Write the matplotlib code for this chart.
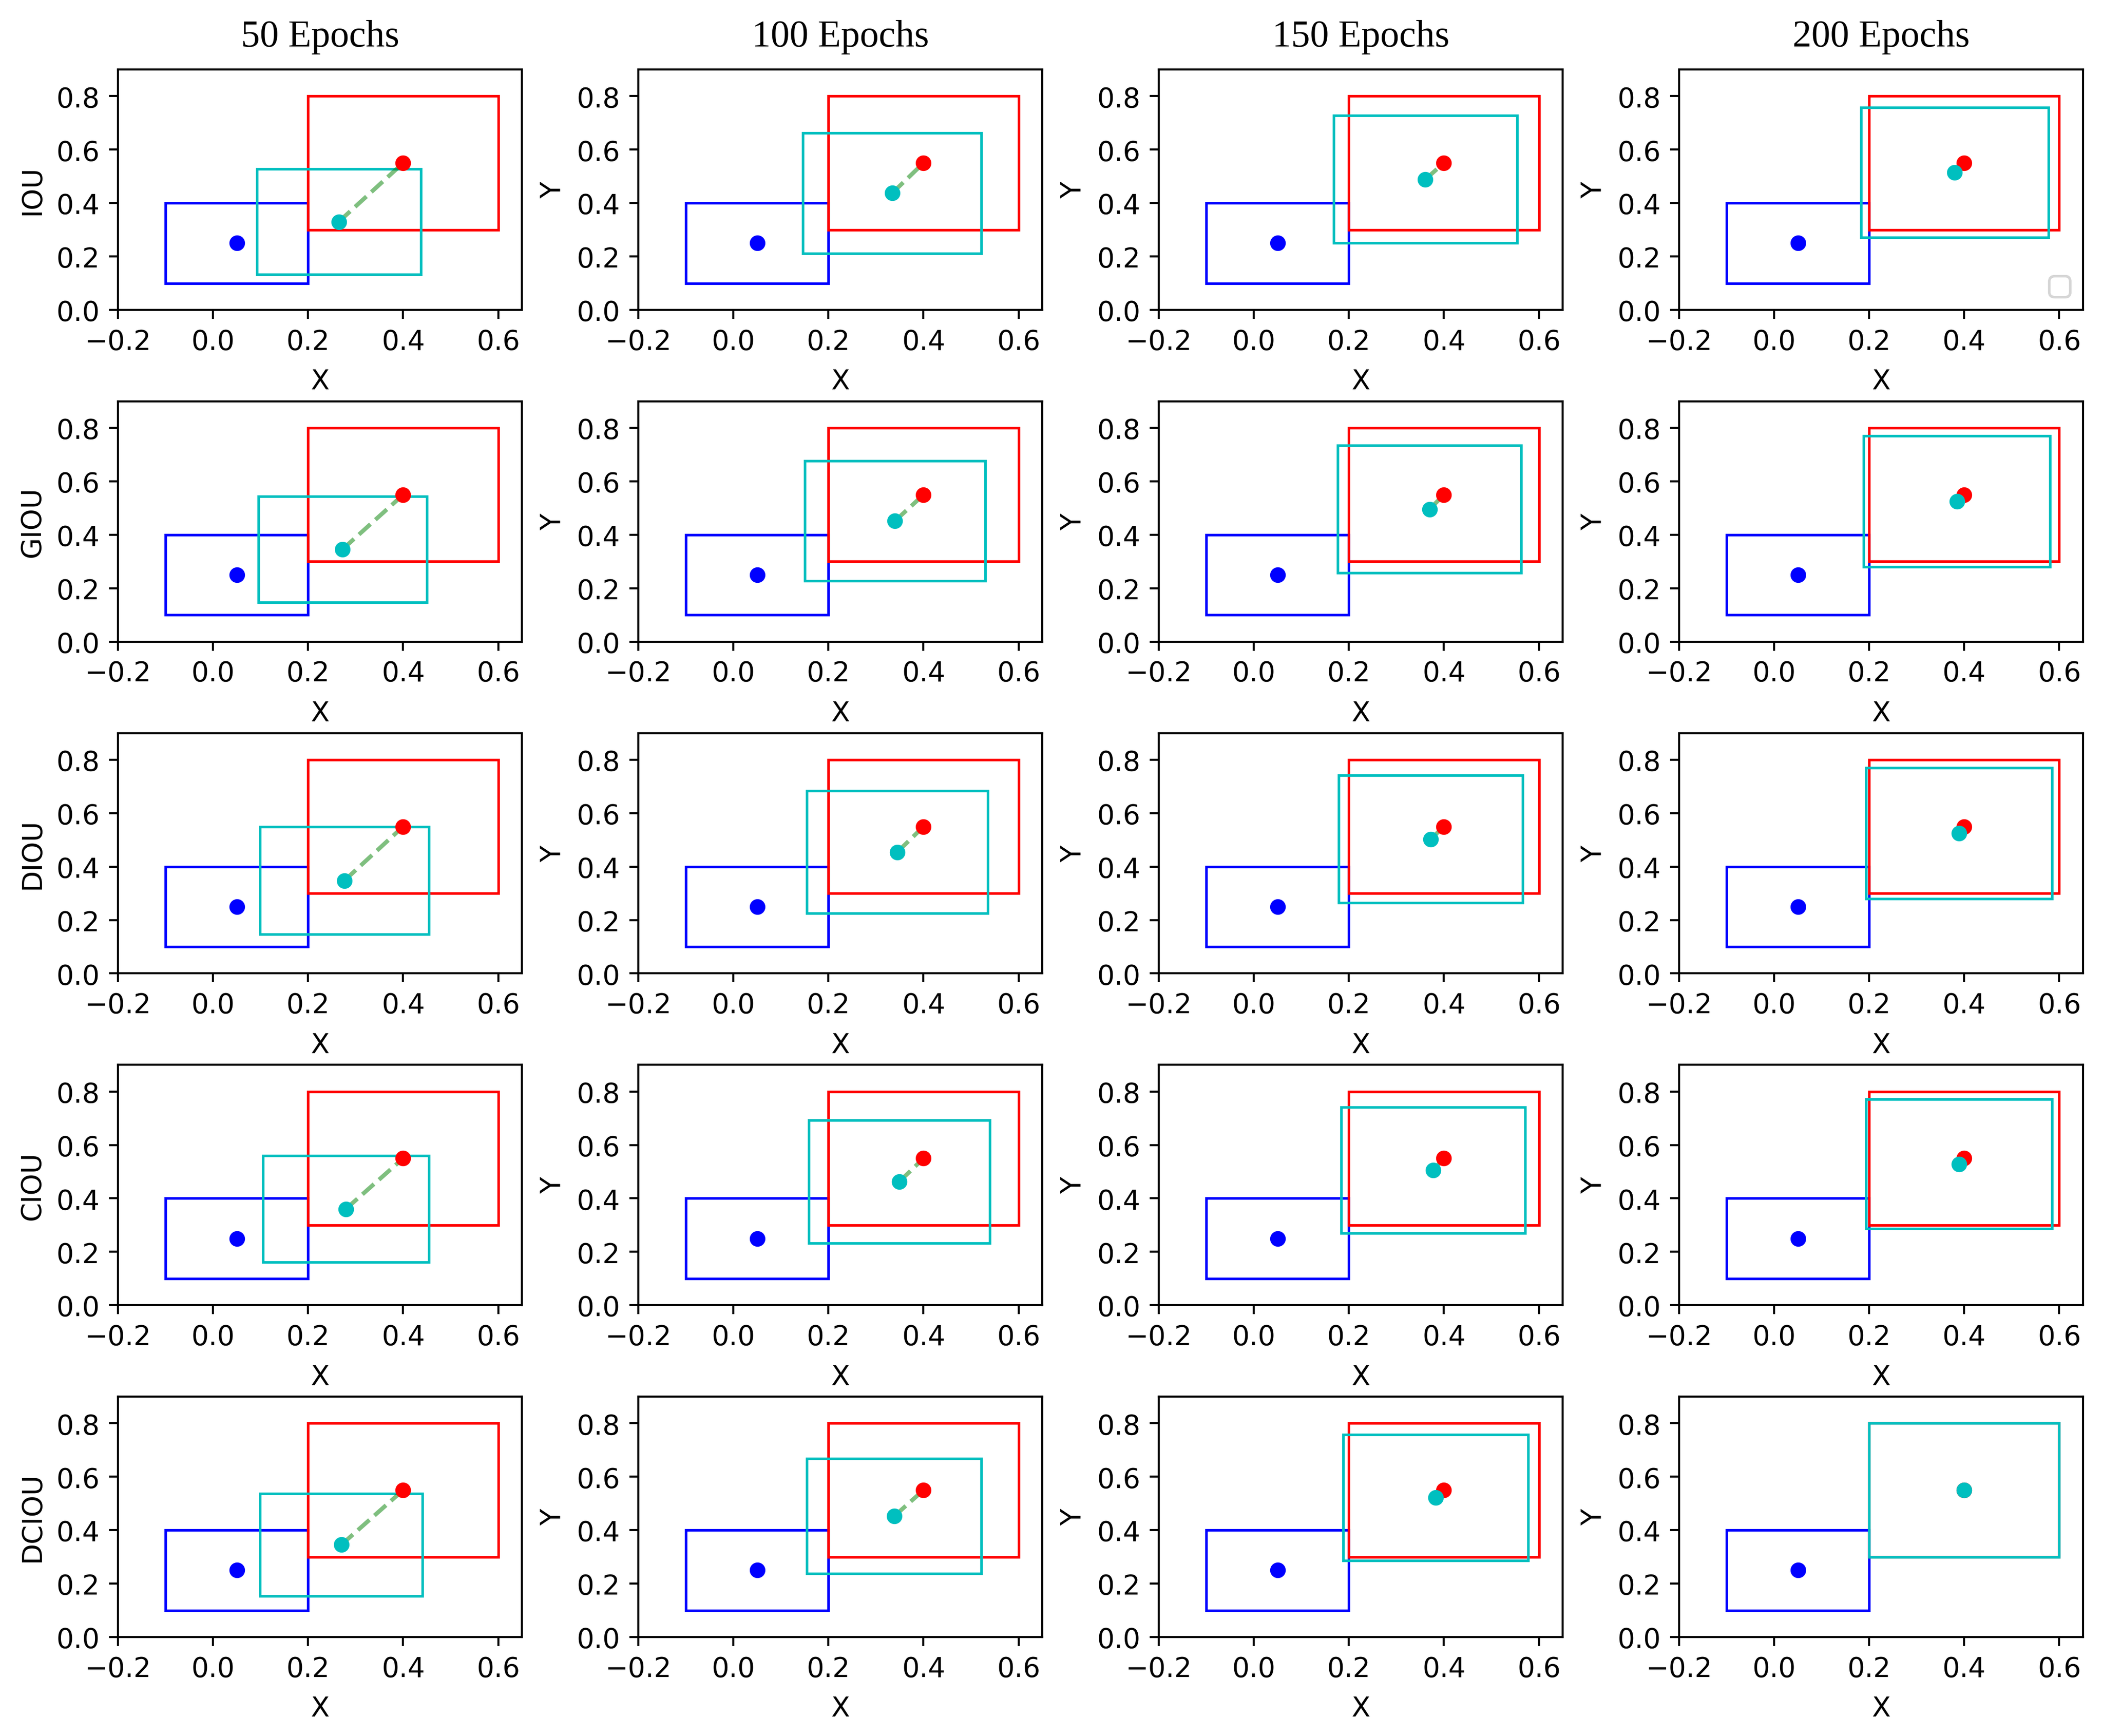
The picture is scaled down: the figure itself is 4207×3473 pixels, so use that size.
# ==========================================
# Bounding box regression: loss comparison
# ==========================================

import matplotlib
matplotlib.use("Agg")
import matplotlib.pyplot as plt
import matplotlib.patches as patches


# ==========================================
# Data
# ==========================================

epochs = ["50 Epochs", "100 Epochs", "150 Epochs", "200 Epochs"]
losses = ["IOU", "GIOU", "DIOU", "CIOU", "DCIOU"]

# anchor box and ground truth box (x1, y1, x2, y2)
anchor_box = [-0.1, 0.1, 0.2, 0.4]
gt_box = [0.2, 0.3, 0.6, 0.8]

# predicted boxes (x1, y1, x2, y2), one list per loss, one entry per epoch
pred_iou = [
    [0.092, 0.132, 0.437, 0.528],
    [0.146, 0.212, 0.522, 0.662],
    [0.168, 0.250, 0.554, 0.727],
    [0.183, 0.272, 0.577, 0.757],
]
pred_giou = [
    [0.095, 0.148, 0.450, 0.544],
    [0.150, 0.228, 0.530, 0.676],
    [0.177, 0.258, 0.563, 0.734],
    [0.188, 0.280, 0.581, 0.770],
]
pred_diou = [
    [0.099, 0.146, 0.454, 0.550],
    [0.155, 0.226, 0.535, 0.683],
    [0.179, 0.265, 0.566, 0.741],
    [0.193, 0.280, 0.585, 0.770],
]
pred_ciou = [
    [0.105, 0.161, 0.454, 0.560],
    [0.159, 0.233, 0.539, 0.692],
    [0.184, 0.270, 0.571, 0.742],
    [0.193, 0.286, 0.585, 0.772],
]
pred_dciou = [
    [0.099, 0.154, 0.441, 0.537],
    [0.155, 0.237, 0.522, 0.668],
    [0.188, 0.287, 0.577, 0.757],
    [0.200, 0.300, 0.600, 0.800],
]

pred_boxes = [pred_iou, pred_giou, pred_diou, pred_ciou, pred_dciou]


# ==========================================
# Helpers
# ==========================================

def draw_box(ax, box, color):
    x1, y1, x2, y2 = box
    rect = patches.Rectangle((x1, y1), x2 - x1, y2 - y1,
                             fill=False, edgecolor=color, linewidth=1)
    ax.add_patch(rect)


def center(box):
    return (box[0] + box[2]) / 2, (box[1] + box[3]) / 2


# ==========================================
# Plot
# ==========================================

fig, axes = plt.subplots(5, 4, figsize=(4207 / 375, 3474 / 375), dpi=375)
fig.subplots_adjust(left=0.0561, right=0.9905, top=0.9597, bottom=0.057,
                    wspace=0.288, hspace=0.38)

for i, loss in enumerate(losses):
    for j, ep in enumerate(epochs):
        ax = axes[i, j]
        pb = pred_boxes[i][j]

        draw_box(ax, anchor_box, "b")
        draw_box(ax, gt_box, "r")
        draw_box(ax, pb, "c")

        ac = center(anchor_box)
        gc = center(gt_box)
        pc = center(pb)

        ax.plot([pc[0], gc[0]], [pc[1], gc[1]], "g--", alpha=0.5, linewidth=1.6)
        ax.plot(ac[0], ac[1], "bo", markersize=5)
        ax.plot(gc[0], gc[1], "ro", markersize=5)
        ax.plot(pc[0], pc[1], "co", markersize=5)

        ax.set_xlim(-0.2, 0.65)
        ax.set_ylim(0, 0.9)
        ax.set_xticks([-0.2, 0.0, 0.2, 0.4, 0.6])
        ax.set_yticks([0.0, 0.2, 0.4, 0.6, 0.8])
        ax.tick_params(labelsize=10.5)
        ax.set_xlabel("X", labelpad=5, fontsize=10.5)

        if j == 0:
            ax.set_ylabel(loss, fontsize=10.5)
        else:
            ax.set_ylabel("Y", fontsize=10.5)

        if i == 0:
            ax.set_title(ep, fontsize=14.5, family="Liberation Serif", pad=9)

# empty legend left in the top right panel
axes[0, 3].legend(handles=[], loc="lower right")

plt.savefig("out.png", dpi=375)
